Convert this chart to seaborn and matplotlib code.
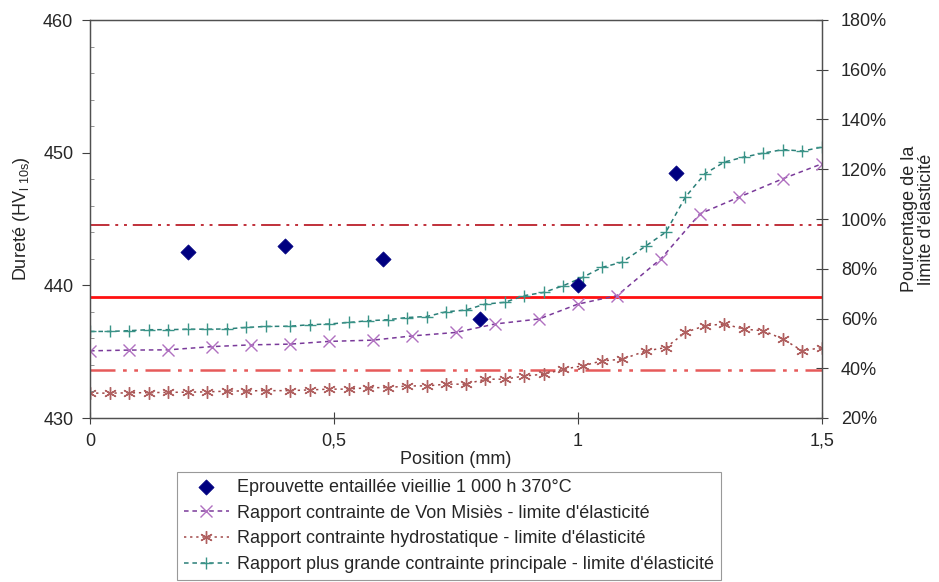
import numpy as np
import pandas as pd
import matplotlib
matplotlib.use("Agg")
import matplotlib.pyplot as plt
import seaborn as sns
from matplotlib.ticker import FixedLocator, MultipleLocator, FuncFormatter

sns.set_style("white")
plt.rcParams['font.family'] = ['Liberation Sans', 'DejaVu Sans']
plt.rcParams['mathtext.fontset'] = 'custom'
plt.rcParams['mathtext.rm'] = 'Liberation Sans'

# ---- data ----
pos_hard = [0.2, 0.4, 0.6, 0.8, 1.0, 1.2]
hardness = [442.5, 443.0, 442.0, 437.5, 440.0, 448.5]

pos_fine = [0.00, 0.04, 0.08, 0.12, 0.16, 0.20, 0.24, 0.28, 0.32, 0.36,
            0.41, 0.45, 0.49, 0.53, 0.57, 0.61, 0.65, 0.69, 0.73, 0.77,
            0.81, 0.85, 0.89, 0.93, 0.97, 1.01, 1.05, 1.09, 1.14, 1.18,
            1.22, 1.26, 1.30, 1.34, 1.38, 1.42, 1.46, 1.50]
princ_pct = [54.8, 54.8, 55.1, 55.5, 55.5, 55.7, 55.7, 55.8, 56.4, 56.8,
             56.9, 57.5, 57.8, 58.4, 59.1, 59.5, 60.4, 60.8, 62.7, 63.4,
             65.8, 66.5, 69.2, 70.5, 73.2, 76.6, 80.6, 82.6, 89.3, 94.7,
             108.8, 118.2, 122.9, 124.9, 126.5, 127.9, 127.3, 128.9]
hydro_pct = [30.0, 30.0, 30.1, 30.2, 30.3, 30.4, 30.5, 30.8, 30.9, 31.0,
             31.0, 31.3, 31.6, 31.6, 32.2, 32.2, 32.9, 32.9, 33.6, 33.6,
             35.6, 35.6, 36.9, 37.6, 39.6, 41.0, 43.0, 43.6, 47.0, 48.3,
             54.4, 57.1, 57.8, 55.7, 55.1, 51.7, 47.0, 48.3]
vm_pos = [0.00, 0.08, 0.16, 0.25, 0.33, 0.41, 0.49, 0.58, 0.66, 0.75,
          0.83, 0.92, 1.00, 1.08, 1.17, 1.25, 1.33, 1.42, 1.50]
vm_pct = [47.0, 47.3, 47.4, 48.7, 49.4, 49.7, 50.8, 51.3, 53.0, 54.4,
          57.8, 59.8, 65.8, 69.2, 84.0, 102.1, 108.8, 116.2, 122.2]

ref_mid = 68.5
ref_hi = 97.7
ref_lo = 39.2

labels = ["Eprouvette entaillée vieillie 1 000 h 370°C",
          "Rapport contrainte de Von Misiès - limite d'élasticité",
          "Rapport contrainte hydrostatique - limite d'élasticité",
          "Rapport plus grande contrainte principale - limite d'élasticité"]

x_ticks = [0, 0.5, 1, 1.5]
x_ticklabels = ["0", "0,5", "1", "1,5"]

# ---- figure ----
W, H = 939, 582
fig = plt.figure(figsize=(W / 100, H / 100), dpi=100)
fig.patch.set_facecolor('white')
L, R, T, B = 90, 822, 20, 418
ax = fig.add_axes([L / W, 1 - B / H, (R - L) / W, (B - T) / H])
ax2 = ax.twinx()

# right axis series
dash = (0, (3, 2.5))
sns.lineplot(x=vm_pos, y=vm_pct, ax=ax2, color='#7a3a9a', linestyle=dash, lw=1.1,
             marker='x', ms=8, mew=1.0, markeredgecolor='#b070c0',
             label=labels[1], legend=False, sort=False)
sns.lineplot(x=pos_fine, y=hydro_pct, ax=ax2, color='#a04848', linestyle=(0, (1.5, 2.5)), lw=1.1,
             marker=(6, 2, 0), ms=9, mew=1.0, markeredgecolor='#b06060',
             label=labels[2], legend=False, sort=False)
sns.lineplot(x=pos_fine, y=princ_pct, ax=ax2, color='#2a7f78', linestyle=dash, lw=1.1,
             marker='+', ms=9, mew=1.0, markeredgecolor='#3a9488',
             label=labels[3], legend=False, sort=False)

ax2.axhline(ref_mid, color='#ff1010', lw=2.0, zorder=1)
ax2.axhline(ref_hi, color='#c0303a', lw=1.4, linestyle=(0, (10, 3, 1.5, 3, 1.5, 3)), zorder=1)
ax2.axhline(ref_lo, color='#e65a5a', lw=1.8, linestyle=(0, (10, 3, 1.5, 3, 1.5, 3)), zorder=1)

# left axis hardness
sns.scatterplot(x=pos_hard, y=hardness, ax=ax, marker='D', s=60, color='#000080',
                edgecolor='#000080', linewidth=0.5, label=labels[0], legend=False, zorder=5)

ax.set_zorder(ax2.get_zorder() + 1)
ax.patch.set_visible(False)

ax.set_xlim(0, 1.5)
ax.set_ylim(430, 460)
ax2.set_ylim(20, 180)

fs = 13
ax.xaxis.set_major_locator(FixedLocator(x_ticks))
ax.set_xticklabels(x_ticklabels, fontsize=fs)
ax.yaxis.set_major_locator(MultipleLocator(10))
ax.yaxis.set_minor_locator(MultipleLocator(2))
ax.tick_params(axis='x', which='major', direction='inout', length=9, width=0.8,
               color='#404040', pad=6, labelsize=fs, bottom=True, top=False)
ax.tick_params(axis='y', which='major', direction='out', length=6, width=0.8,
               color='#404040', pad=6, labelsize=fs, left=True)
ax.tick_params(axis='y', which='minor', direction='in', length=3, width=0.6,
               color='#808080', left=True)

ax2.yaxis.set_major_locator(MultipleLocator(20))
ax2.yaxis.set_major_formatter(FuncFormatter(lambda v, p: f"{int(round(v))}%"))
ax2.tick_params(axis='y', which='major', direction='inout', length=9, width=0.8,
                color='#404040', pad=9, labelsize=fs, right=True)

for a in (ax, ax2):
    for s in a.spines.values():
        s.set_color('#505050')
        s.set_linewidth(0.9)

ax.set_xlabel("Position (mm)", fontsize=fs, labelpad=1)
ax.set_ylabel(r"Dureté (HV$_{\mathregular{l\ 10s}}$)", fontsize=fs, labelpad=8)
ax2.set_ylabel("Pourcentage de la\nlimite d'élasticité", fontsize=fs, rotation=90,
               labelpad=10, linespacing=1.0)
ax2.yaxis.set_label_position('right')

h1, l1 = ax.get_legend_handles_labels()
h2, l2 = ax2.get_legend_handles_labels()
handles = h1 + h2
leg_labels = l1 + l2
leg = fig.legend(handles, leg_labels, loc='upper left',
                 bbox_to_anchor=(177 / W, 1 - 472 / H), frameon=True, fancybox=False,
                 edgecolor='#808080', fontsize=fs, handlelength=2.5, handletextpad=0.45,
                 borderpad=0.38, labelspacing=0.48, borderaxespad=0)
leg.get_frame().set_linewidth(0.8)

fig.savefig("out.png", dpi=100, facecolor='white')
